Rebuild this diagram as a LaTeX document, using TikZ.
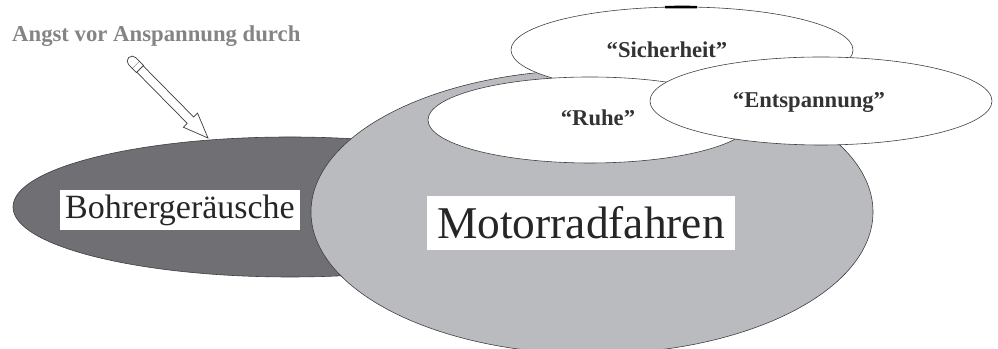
\documentclass[tikz,border=0pt]{standalone}
\usepackage{fontspec}
\setmainfont{Liberation Serif}
\usepackage{xcolor}
\usepackage{tikz}
\usetikzlibrary{shapes.geometric,positioning}
\definecolor{drillgray}{RGB}{112,112,116}
\definecolor{ridegray}{RGB}{186,187,191}
\definecolor{notegray}{RGB}{132,132,134}
\definecolor{rimgray}{RGB}{60,60,62}
\tikzset{
  blob/.style={ellipse, draw=rimgray, line width=0.5pt, fill=#1, inner sep=0pt},
  wish/.style={anchor=base, inner sep=0pt, text=black!80,
               font=\fontsize{19.3}{22}\selectfont\bfseries},
  tag/.style={rectangle, fill=white, inner sep=0pt, text=black!85, align=center},
}

\begin{document}
\begin{tikzpicture}[x=0.03cm, y=0.03cm]
        \useasboundingbox (0,0) rectangle (998,349);

        % Fields
        \node[blob=drillgray, minimum width=16.62cm, minimum height=4.2cm]  (drill) at (290,142) {};
        \node[blob=ridegray,  minimum width=16.86cm, minimum height=8.52cm] (ride)  at (592,137) {};

        % Wishes
        \node[blob=white, minimum width=10.26cm, minimum height=2.58cm] (safe)  at (682,299) {};
        \draw[line width=2.2pt, black] (safe.center) ++(95.7:171 and 43)
              arc[start angle=95.7, end angle=85, x radius=171, y radius=43];
        \node[blob=white, minimum width=9.72cm,  minimum height=2.58cm] (calm)  at (590,229) {};
        \node[blob=white, minimum width=10.26cm, minimum height=2.64cm] (relax) at (821,248) {};

        \node[wish] (safetxt)  at (667,291) {“Sicherheit”};
        \node[wish] (calmtxt)  at (598,223) {“Ruhe”};
        \node[wish] (relaxtxt) at (809,241) {“Entspannung”};

        % Labels
        \node[tag, minimum width=7.2cm, minimum height=1.2cm,
              font=\fontsize{29}{32}\selectfont] (drilltxt) at (180,139) {Bohrergeräusche};
        \node[tag, minimum width=9.24cm, minimum height=1.62cm,
              font=\fontsize{38.8}{42}\selectfont] (ridetxt) at (581,126) {Motorradfahren};

        % Note with pointer
        \node[anchor=base west, inner sep=0pt, text=notegray,
              font=\fontsize{19.4}{22}\selectfont\bfseries] (fear) at (12,307) {Angst vor Anspannung durch};
        \coordinate (poke) at (208,211);
        \begin{scope}[shift={(poke)}, rotate=-45.4, rimgray, line width=0.6pt]
          \draw[fill=white] (0,0) -- (-25,10) -- (-25,4.5) -- (-97,4.5)
                -- (-97,-4.5) -- (-25,-4.5) -- (-25,-10) -- cycle;
          \draw[fill=white] (-97,5) rectangle (-103,-5);
          \draw[fill=white] (-103,5) -- (-108,5) arc[start angle=90, end angle=270, radius=5] -- (-103,-5);
        \end{scope}
\end{tikzpicture}
\end{document}
